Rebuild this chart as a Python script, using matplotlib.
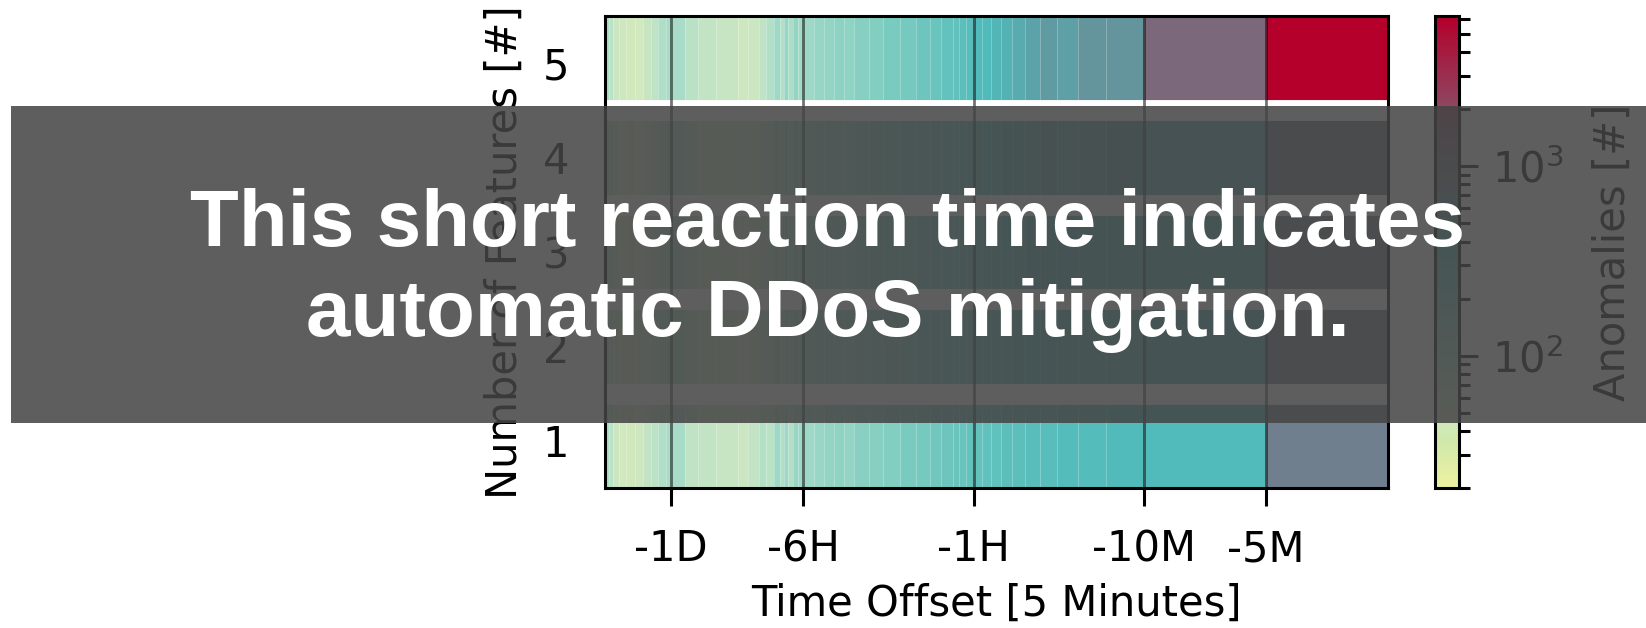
import matplotlib
matplotlib.use("Agg")
import numpy as np
import matplotlib.pyplot as plt
from matplotlib.colors import LinearSegmentedColormap, LogNorm
from matplotlib.patches import Rectangle
from matplotlib.ticker import NullLocator

# bin edges in 5-minute steps before the event
time_edges = [-576, -552, -529, -500, -462, -420, -386, -355, -330, -305, -288,
              -250, -217, -180, -142, -128, -115, -106, -98, -92, -88, -84, -80,
              -76, -72, -64, -58, -52, -47, -42, -36, -31, -26, -22, -19, -17,
              -15, -14, -13, -12, -11, -10, -9, -8, -7, -6, -5, -4, -3, -2, -1, 0]

feature_counts = [1, 2, 3, 4, 5]

# anomalies per bin, one list per number of features
anomalies_1 = [89, 71, 56, 50, 47, 53, 63, 71, 84, 94,
               94, 67, 63, 59, 56, 63, 79, 71, 112, 84,
               112, 79, 118, 105, 112, 118, 133, 141, 133, 158,
               167, 177, 198, 210, 222, 236, 250, 250, 264, 264,
               280, 280, 296, 296, 314, 314, 333, 333, 352, 352, 880]
anomalies_2 = [84, 67, 56, 50, 50, 56, 63, 75, 89, 100,
               89, 71, 63, 56, 53, 59, 75, 75, 105, 79,
               118, 84, 125, 100, 112, 125, 133, 141, 141, 158,
               167, 188, 198, 222, 236, 250, 264, 280, 280, 296,
               296, 314, 314, 333, 352, 352, 373, 373, 380, 390, 860]
anomalies_3 = [89, 71, 59, 53, 47, 53, 59, 71, 84, 94,
               94, 71, 63, 59, 53, 59, 71, 79, 112, 84,
               125, 89, 125, 105, 112, 125, 133, 149, 141, 167,
               177, 198, 210, 222, 236, 250, 280, 296, 296, 314,
               333, 333, 352, 373, 395, 420, 400, 430, 430, 420, 900]
anomalies_4 = [89, 75, 56, 53, 50, 53, 63, 71, 84, 100,
               94, 75, 63, 59, 56, 59, 71, 79, 118, 84,
               125, 89, 133, 105, 118, 125, 141, 149, 149, 167,
               177, 198, 222, 236, 250, 264, 280, 296, 314, 333,
               352, 373, 395, 420, 470, 500, 480, 520, 540, 450, 950]
anomalies_5 = [89, 71, 56, 53, 47, 50, 59, 67, 84, 94,
               94, 75, 63, 59, 53, 56, 67, 79, 112, 79,
               125, 89, 133, 100, 112, 125, 133, 149, 141, 167,
               177, 198, 210, 236, 250, 264, 280, 296, 314, 352,
               352, 373, 395, 443, 497, 573, 526, 625, 625, 1240, 6200]

tick_offsets = [-288, -72, -12, -2, -1]
tick_labels = ['-1D', '-6H', '-1H', '-10M', '-5M']

cmap = LinearSegmentedColormap.from_list('anom', [
    (0.00, '#eef2a0'),
    (0.10, '#cfe8ac'),
    (0.16, '#d2e8c0'),
    (0.22, '#bce2c6'),
    (0.28, '#a4dac8'),
    (0.38, '#82cec0'),
    (0.50, '#50baba'),
    (1.00, '#b4002b'),
])

plt.rcParams['font.family'] = 'DejaVu Sans'
fig = plt.figure(figsize=(16.46, 6.28), dpi=100)
ax = fig.add_axes([0.3676, 0.2229, 0.4757, 0.7516])
cax = fig.add_axes([0.8718, 0.2229, 0.0146, 0.7516])

data = np.array([anomalies_1, anomalies_2, anomalies_3, anomalies_4, anomalies_5])
y_edges = np.arange(0.5, len(feature_counts) + 1, 1.0)
mesh = ax.pcolormesh(time_edges, y_edges, data, cmap=cmap,
                     norm=LogNorm(vmin=20, vmax=6200),
                     edgecolors=(1, 1, 1, 0.25), linewidth=0.6, zorder=1)

for y in y_edges[1:-1]:
    ax.axhline(y, color='white', linewidth=15, zorder=2)

ax.set_xscale('symlog', linthresh=2, linscale=1)
ax.set_xlim(-576, 0)
ax.set_ylim(0.5, 5.5)
ax.set_xticks(tick_offsets)
ax.set_xticklabels(tick_labels)
ax.xaxis.set_minor_locator(NullLocator())
ax.set_yticks(feature_counts)
ax.set_axisbelow(False)
ax.grid(axis='x', color='black', alpha=0.55, linewidth=2)
ax.tick_params(axis='x', labelsize=30, length=13, width=2.2, pad=16)
ax.tick_params(axis='y', labelsize=30, length=0, pad=26)
for s in ax.spines.values():
    s.set_linewidth(2.2)
ax.set_xlabel('Time Offset [5 Minutes]', fontsize=30, labelpad=9)
ax.set_ylabel('Number of Features [#]', fontsize=30, labelpad=12)

cb = fig.colorbar(mesh, cax=cax)
cb.outline.set_linewidth(2.2)
cax.tick_params(which='major', labelsize=30, length=14, width=2.2, pad=10)
cax.tick_params(which='minor', length=8, width=2.2)
cb.set_label('Anomalies [#]', fontsize=30, labelpad=20)

# overlay caption
fig.patches.append(Rectangle((0.0064, 0.3264), 0.9936, 0.5048, transform=fig.transFigure,
                             facecolor='#444444', alpha=0.86, edgecolor='none', zorder=5))
fig.text(0.503, 0.569, 'This short reaction time indicates\nautomatic DDoS mitigation.',
         ha='center', va='center', color='white', fontsize=57.5, fontweight='bold',
         family='Liberation Sans', linespacing=1.27, zorder=6)

fig.savefig('out.png', dpi=100)
